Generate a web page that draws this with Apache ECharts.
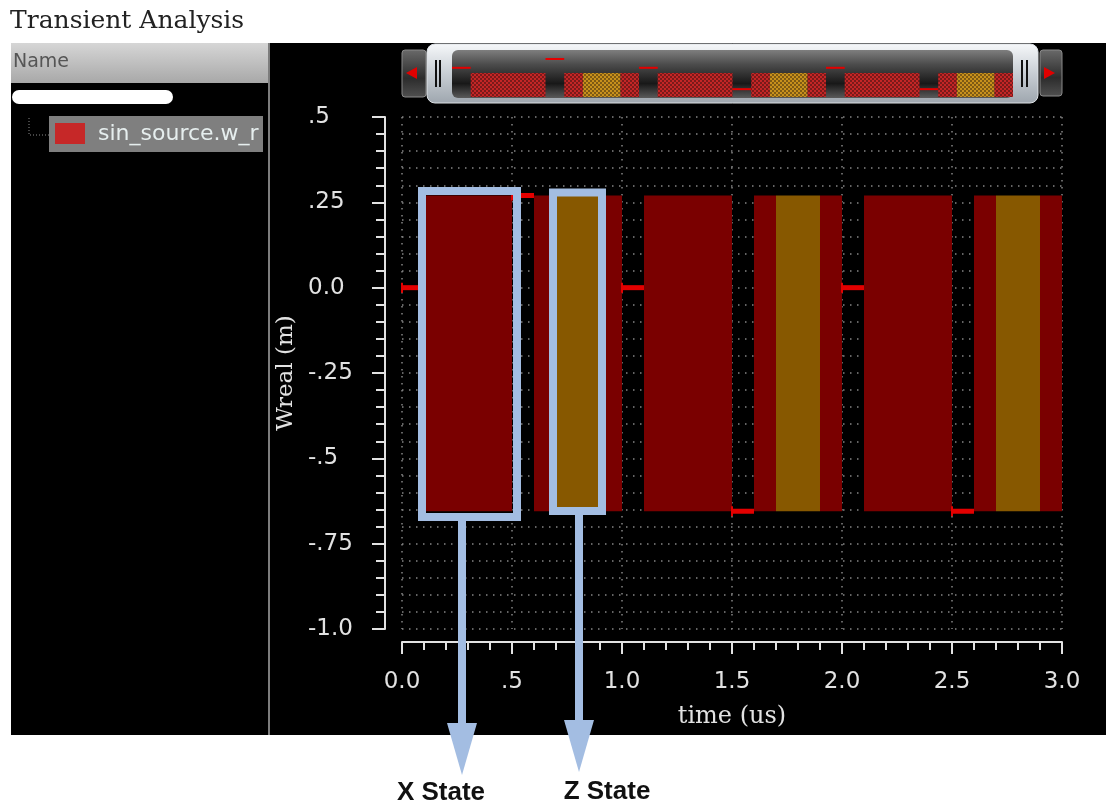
<!DOCTYPE html>
<html><head><meta charset="utf-8">
<script src="https://cdn.jsdelivr.net/npm/echarts@6/dist/echarts.min.js"></script>
<style>html,body{margin:0;padding:0;background:#fff}#c{width:1106px;height:805px}</style>
</head><body><div id="c"></div>
<script>
// ---- data ----
const yTickValues = [0.5, 0.25, 0, -0.25, -0.5, -0.75, -1.0];
const yTickLabels = ['.5', '.25', '0.0', '-.25', '-.5', '-.75', '-1.0'];
const xTickValues = [0, 0.5, 1.0, 1.5, 2.0, 2.5, 3.0];
const xTickLabels = ['0.0', '.5', '1.0', '1.5', '2.0', '2.5', '3.0'];
// known-value segments: [start (us), end (us), value (m)]
const knownSegments = [[0, 0.1, 0], [0.5, 0.6, 0.27], [1.0, 1.1, 0], [1.5, 1.6, -0.655], [2.0, 2.1, 0], [2.5, 2.6, -0.655]];
// unknown (X) and high-impedance (Z) state intervals: [start, end]
const xStates = [[0.1, 0.5], [0.6, 0.7], [0.9, 1.0], [1.1, 1.5], [1.6, 1.7], [1.9, 2.0], [2.1, 2.5], [2.6, 2.7], [2.9, 3.0]];
const zStates = [[0.7, 0.9], [1.7, 1.9], [2.7, 2.9]];
const stateHigh = 0.27;
const stateLow = -0.655;

// ---- helpers ----
function labelFrom(values, labels) {
  return function (v) {
    let best = 0;
    for (let i = 1; i < values.length; i++) if (Math.abs(values[i] - v) < Math.abs(values[best] - v)) best = i;
    return Math.abs(values[best] - v) < 1e-6 ? labels[best] : '';
  };
}
function makePattern(c1, c2) {
  const cv = document.createElement('canvas');
  cv.width = 4; cv.height = 4;
  const ctx = cv.getContext('2d');
  ctx.fillStyle = c2; ctx.fillRect(0, 0, 4, 4);
  ctx.fillStyle = c1;
  ctx.fillRect(0, 0, 2, 2); ctx.fillRect(2, 2, 2, 2);
  ctx.fillRect(1, 0, 1, 1);
  return { image: cv, repeat: 'repeat' };
}
const redPattern = makePattern('#c42626', '#7a1a1a');
const orangePattern = makePattern('#c8901c', '#7e5a14');

const stateRows = a => a.map(s => [s[0], s[1], stateLow, stateHigh]);

function blockRender(color) {
  return function (params, api) {
    const p0 = api.coord([api.value(0), api.value(3)]);
    const p1 = api.coord([api.value(1), api.value(2)]);
    return { type: 'rect', shape: { x: p0[0], y: p0[1], width: p1[0] - p0[0], height: p1[1] - p0[1] }, style: { fill: color } };
  };
}
function lineRender(width, tick) {
  return function (params, api) {
    const s = api.coord([api.value(0), api.value(2)]);
    const e = api.coord([api.value(1), api.value(2)]);
    const ch = [{ type: 'line', shape: { x1: s[0], y1: s[1], x2: e[0], y2: e[1] }, style: { stroke: '#e40000', lineWidth: width } }];
    if (tick) ch.push({ type: 'line', shape: { x1: s[0], y1: s[1] - 5, x2: s[0], y2: s[1] + 5 }, style: { stroke: '#e40000', lineWidth: 2 } });
    return { type: 'group', children: ch };
  };
}
function miniBlockRender(pattern) {
  return function (params, api) {
    const cs = params.coordSys;
    const x0 = api.coord([api.value(0), 0])[0];
    const x1 = api.coord([api.value(1), 0])[0];
    return { type: 'rect', shape: { x: x0, y: cs.y + 23, width: x1 - x0, height: 24 }, style: { fill: pattern } };
  };
}

const white = '#e2e2e2';
const dots = { color: '#858585', width: 1.5, type: [1.5, 5.5] };
const blue = '#a3bde2';
const vgrad = stops => ({ type: 'linear', x: 0, y: 0, x2: 0, y2: 1, colorStops: stops.map(s => ({ offset: s[0], color: s[1] })) });

const chart = echarts.init(document.getElementById('c'), null, { renderer: 'canvas' });
chart.setOption({
  backgroundColor: '#ffffff',
  animation: false,
  grid: [
    { left: 402, top: 117, width: 660, height: 512, outerBoundsMode: 'none', containLabel: false },
    { left: 452, top: 50, width: 561, height: 48, outerBoundsMode: 'none', containLabel: false }
  ],
  xAxis: [
    {
      type: 'value', gridIndex: 0, min: 0, max: 3, interval: 0.5, offset: 13,
      axisLine: { show: true, onZero: false, lineStyle: { color: white, width: 2 } },
      axisTick: { show: true, length: 12, lineStyle: { color: white, width: 2 } },
      minorTick: { show: true, splitNumber: 5, length: 8, lineStyle: { color: white, width: 2 } },
      axisLabel: { margin: 29, color: white, fontFamily: 'DejaVu Sans', fontSize: 23, formatter: labelFrom(xTickValues, xTickLabels) },
      splitLine: { show: true, lineStyle: dots },
      minorSplitLine: { show: false },
      name: 'time (us)', nameLocation: 'middle', nameGap: 63,
      nameTextStyle: { color: white, fontFamily: 'DejaVu Serif', fontSize: 24 }
    },
    { type: 'value', gridIndex: 1, min: 0, max: 3, show: false }
  ],
  yAxis: [
    {
      type: 'value', gridIndex: 0, min: -1, max: 0.5, interval: 0.25, offset: 17,
      axisLine: { show: true, onZero: false, lineStyle: { color: white, width: 2 } },
      axisTick: { show: true, length: 13, lineStyle: { color: white, width: 2 } },
      minorTick: { show: true, splitNumber: 5, length: 9, lineStyle: { color: white, width: 2 } },
      axisLabel: { align: 'left', margin: 77, color: white, fontFamily: 'DejaVu Sans', fontSize: 23, formatter: labelFrom(yTickValues, yTickLabels) },
      splitLine: { show: true, lineStyle: dots },
      minorSplitLine: { show: true, lineStyle: dots },
      name: 'Wreal (m)', nameLocation: 'middle', nameGap: 85,
      nameTextStyle: { color: white, fontFamily: 'DejaVu Serif', fontSize: 23 }
    },
    { type: 'value', gridIndex: 1, min: -0.926, max: 0.546, show: false }
  ],
  series: [
    { type: 'custom', name: 'X state', xAxisIndex: 0, yAxisIndex: 0, data: stateRows(xStates), encode: { x: [0, 1], y: [2, 3] }, renderItem: blockRender('#7a0000'), clip: true },
    { type: 'custom', name: 'Z state', xAxisIndex: 0, yAxisIndex: 0, data: stateRows(zStates), encode: { x: [0, 1], y: [2, 3] }, renderItem: blockRender('#875800'), clip: true },
    { type: 'custom', name: 'sin_source.w', xAxisIndex: 0, yAxisIndex: 0, data: knownSegments, encode: { x: [0, 1], y: 2 }, renderItem: lineRender(5, true) },
    { type: 'custom', name: 'mini X', xAxisIndex: 1, yAxisIndex: 1, data: stateRows(xStates), encode: { x: [0, 1], y: [2, 3] }, renderItem: miniBlockRender(redPattern) },
    { type: 'custom', name: 'mini Z', xAxisIndex: 1, yAxisIndex: 1, data: stateRows(zStates), encode: { x: [0, 1], y: [2, 3] }, renderItem: miniBlockRender(orangePattern) },
    { type: 'custom', name: 'mini line', xAxisIndex: 1, yAxisIndex: 1, data: knownSegments, encode: { x: [0, 1], y: 2 }, renderItem: lineRender(2, false) }
  ],
  graphic: [
    // page frame
    { type: 'rect', z: -10, shape: { x: 11, y: 43, width: 1095, height: 692 }, style: { fill: '#000' } },
    { type: 'text', z: 1, x: 10, y: 21, style: { text: 'Transient Analysis', fill: '#222', font: '25px "DejaVu Serif"', verticalAlign: 'middle' } },
    // left name panel
    { type: 'rect', z: -9, shape: { x: 11, y: 43, width: 257, height: 40 }, style: { fill: vgrad([[0, '#d6d6d6'], [1, '#a8a8a8']]) } },
    { type: 'text', z: 1, x: 13, y: 62, style: { text: 'Name', fill: '#555', font: '19px "DejaVu Sans"', verticalAlign: 'middle' } },
    { type: 'rect', z: 1, shape: { x: 12, y: 90, width: 161, height: 14, r: 7 }, style: { fill: '#fff' } },
    { type: 'polyline', z: 1, shape: { points: [[29, 118], [29, 135], [49, 135]] }, style: { stroke: '#8a8a8a', lineWidth: 1, lineDash: [1, 2], fill: null } },
    { type: 'rect', z: 1, shape: { x: 49, y: 116, width: 214, height: 36 }, style: { fill: '#7f7f7f' } },
    { type: 'rect', z: 2, shape: { x: 55, y: 123, width: 30, height: 21 }, style: { fill: '#c62828' } },
    { type: 'text', z: 2, x: 98, y: 134, style: { text: 'sin_source.w_r', fill: '#e6eeee', font: '22px "DejaVu Sans"', verticalAlign: 'middle' } },
    { type: 'rect', z: 3, shape: { x: 263, y: 114, width: 40, height: 40 }, style: { fill: '#000' } },
    { type: 'line', z: 4, shape: { x1: 269, y1: 43, x2: 269, y2: 735 }, style: { stroke: '#7d7d7d', lineWidth: 2 } },
    // overview widget
    { type: 'rect', z: 0, shape: { x: 402, y: 50, width: 24, height: 47, r: 3 }, style: { fill: vgrad([[0, '#6a6a6a'], [0.6, '#2c2c2c'], [1, '#505050']]), stroke: '#8a8a8a', lineWidth: 1 } },
    { type: 'polygon', z: 1, shape: { points: [[406, 73], [417, 67], [417, 79]] }, style: { fill: '#e00000' } },
    { type: 'rect', z: 0, shape: { x: 1040, y: 50, width: 22, height: 46, r: 3 }, style: { fill: vgrad([[0, '#6a6a6a'], [0.6, '#2c2c2c'], [1, '#505050']]), stroke: '#8a8a8a', lineWidth: 1 } },
    { type: 'polygon', z: 1, shape: { points: [[1055, 73], [1044, 67], [1044, 79]] }, style: { fill: '#e00000' } },
    { type: 'rect', z: 0, shape: { x: 427, y: 44, width: 611, height: 59, r: 8 }, style: { fill: vgrad([[0, '#f6f8fa'], [0.5, '#c8ced4'], [1, '#9ea6ae']]), stroke: '#dde1e5', lineWidth: 1 } },
    { type: 'rect', z: 1, shape: { x: 452, y: 50, width: 561, height: 48, r: 6 }, style: { fill: vgrad([[0, '#7e7e7e'], [0.3, '#4c4c4c'], [0.7, '#181818'], [1, '#5a5a5a']]) } },
    { type: 'line', z: 1, shape: { x1: 436, y1: 60, x2: 436, y2: 87 }, style: { stroke: '#111', lineWidth: 2 } },
    { type: 'line', z: 1, shape: { x1: 440, y1: 60, x2: 440, y2: 87 }, style: { stroke: '#111', lineWidth: 2 } },
    { type: 'line', z: 1, shape: { x1: 1022, y1: 60, x2: 1022, y2: 87 }, style: { stroke: '#111', lineWidth: 2 } },
    { type: 'line', z: 1, shape: { x1: 1027, y1: 60, x2: 1027, y2: 87 }, style: { stroke: '#111', lineWidth: 2 } },
    // annotations
    { type: 'rect', z: 50, shape: { x: 422, y: 191, width: 95, height: 326 }, style: { fill: null, stroke: blue, lineWidth: 8 } },
    { type: 'rect', z: 50, shape: { x: 553, y: 192.5, width: 49, height: 318.5 }, style: { fill: null, stroke: blue, lineWidth: 8 } },
    { type: 'rect', z: 50, shape: { x: 458, y: 517, width: 8, height: 208 }, style: { fill: blue } },
    { type: 'polygon', z: 50, shape: { points: [[447, 723], [477, 723], [462, 775]] }, style: { fill: blue } },
    { type: 'rect', z: 50, shape: { x: 575, y: 511, width: 8, height: 211 }, style: { fill: blue } },
    { type: 'polygon', z: 50, shape: { points: [[564, 720], [594, 720], [579, 772]] }, style: { fill: blue } },
    { type: 'text', z: 50, x: 441, y: 793, style: { text: 'X State', fill: '#111', font: 'bold 26px "Liberation Sans"', align: 'center', verticalAlign: 'middle' } },
    { type: 'text', z: 50, x: 607, y: 792, style: { text: 'Z State', fill: '#111', font: 'bold 26px "Liberation Sans"', align: 'center', verticalAlign: 'middle' } }
  ]
});
</script></body></html>
